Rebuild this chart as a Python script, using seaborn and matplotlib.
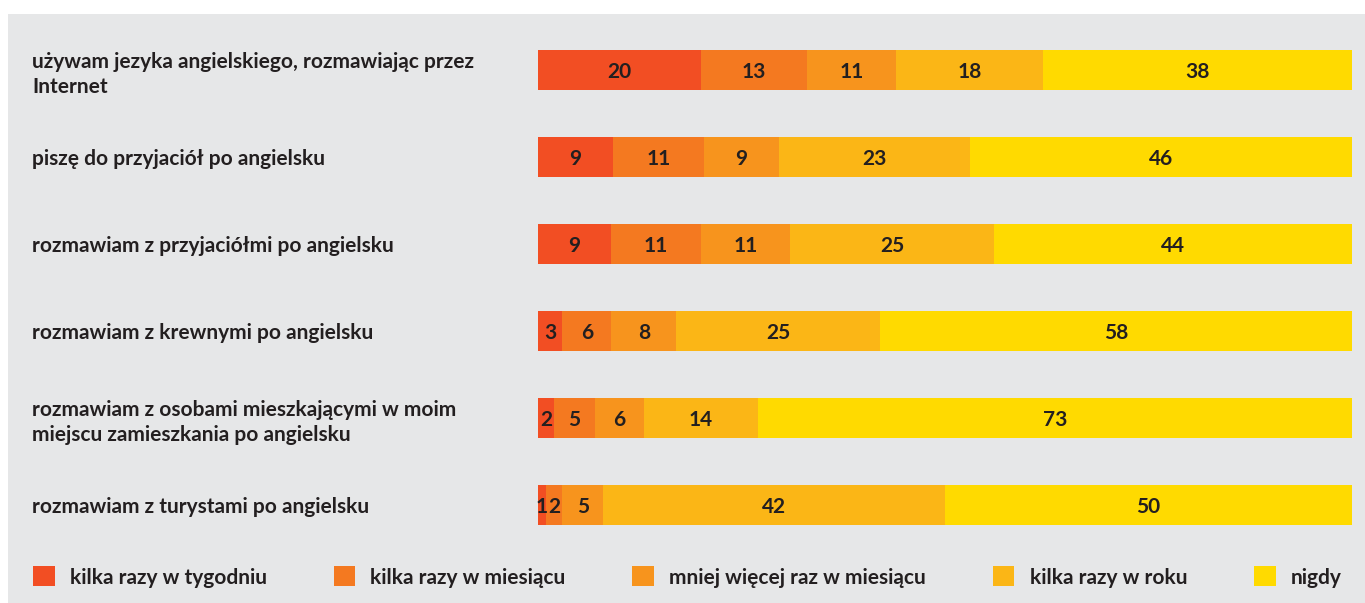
import pandas as pd
import matplotlib.pyplot as plt
import seaborn as sns
from matplotlib.patches import Patch, Rectangle

plt.rcParams['font.family'] = ['Lato', 'DejaVu Sans']

# Data
statements = [
    'używam jezyka angielskiego, rozmawiając przez\nInternet',
    'piszę do przyjaciół po angielsku',
    'rozmawiam z przyjaciółmi po angielsku',
    'rozmawiam z krewnymi po angielsku',
    'rozmawiam z osobami mieszkającymi w moim\nmiejscu zamieszkania po angielsku',
    'rozmawiam z turystami po angielsku',
]
answers = ['kilka razy w tygodniu', 'kilka razy w miesiącu', 'mniej więcej raz w miesiącu',
           'kilka razy w roku', 'nigdy']
weekly = [20, 9, 9, 3, 2, 1]
monthly = [13, 11, 11, 6, 5, 2]
about_monthly = [11, 9, 11, 8, 6, 5]
yearly = [18, 23, 25, 25, 14, 42]
never = [38, 46, 44, 58, 73, 50]
colors = ['#F24E23', '#F47920', '#F7941D', '#FBB616', '#FFDA00']

df = pd.DataFrame({'statement': statements, answers[0]: weekly, answers[1]: monthly,
                   answers[2]: about_monthly, answers[3]: yearly, answers[4]: never})
vals_wide = df.set_index('statement')[answers]
# rounded values don't always add up to 100, bars are drawn as full-width shares
share = vals_wide.div(vals_wide.sum(axis=1), axis=0) * 100
cum = share.cumsum(axis=1)
long = cum.reset_index().melt(id_vars='statement', var_name='answer', value_name='cum')
long = long.merge(share.reset_index().melt(id_vars='statement', var_name='answer', value_name='share'),
                  on=['statement', 'answer'])
long = long.merge(df.melt(id_vars='statement', var_name='answer', value_name='val'),
                  on=['statement', 'answer'])

FS = 15

fig = plt.figure(figsize=(13.65, 6.03), dpi=100)
fig.patches.append(Rectangle((8 / 1365, 0), 1, 1 - 14 / 603, transform=fig.transFigure,
                             facecolor='#E6E7E8', edgecolor='none', zorder=-10))
ax = fig.add_axes([538 / 1365, 54.5 / 603, 814 / 1365, 522 / 603])
ax.patch.set_alpha(0)

# stacked bars: draw cumulative totals, largest first
sns.barplot(data=long, y='statement', x='cum', hue='answer', hue_order=answers[::-1],
            palette=dict(zip(answers, colors)), order=statements, dodge=False,
            width=0.47, orient='h', legend=False, ax=ax, saturation=1, linewidth=0)

for _, r in long.iterrows():
    yi = statements.index(r['statement'])
    ax.text(r['cum'] - r['share'] / 2, yi + 0.02, str(r['val']), ha='center', va='center',
            fontsize=FS, fontweight='bold', color='#231F20')

ax.set_xlim(0, 100)
ax.set_ylim(5.5, -0.5)
ax.set_xlabel('')
ax.set_ylabel('')
ax.set_xticks([])
for s in ax.spines.values():
    s.set_visible(False)
ax.tick_params(axis='y', length=0, pad=506 * 0.72)
for lbl in ax.get_yticklabels():
    lbl.set_ha('left')
    lbl.set_fontsize(FS)
    lbl.set_fontweight('bold')
    lbl.set_color('#231F20')
    lbl.set_linespacing(1.3)

handles = [Patch(facecolor=c, edgecolor='none') for c in colors]
fig.legend(handles, answers, ncol=5, loc='center left', bbox_to_anchor=(33 / 1365, 26 / 603),
           frameon=False, prop={'weight': 'bold', 'size': FS},
           handlelength=1.05, handleheight=1.1, handletextpad=0.72, columnspacing=3.2,
           borderpad=0, borderaxespad=0, labelcolor='#231F20')

fig.savefig('out.png', dpi=100)
